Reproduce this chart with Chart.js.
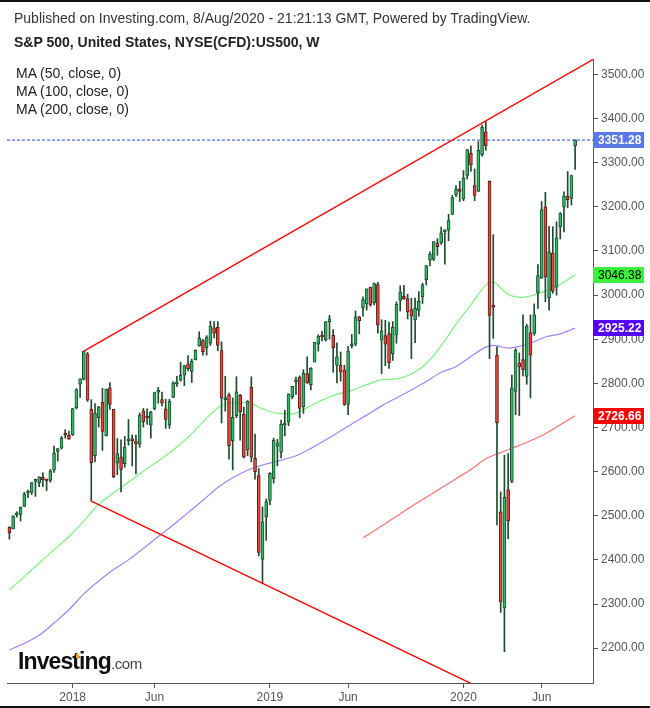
<!DOCTYPE html>
<html>
<head>
<meta charset="utf-8">
<script src="https://cdn.jsdelivr.net/npm/chart.js@4.4.0/dist/chart.umd.min.js"></script>
<style>
  html, body { margin: 0; padding: 0; background: #fff; }
  #wrap { position: relative; width: 650px; height: 708px; overflow: hidden; font-family: Arial, "Liberation Sans", sans-serif; }
  #chart { position: absolute; left: 0; top: 0; }
  .txt { position: absolute; white-space: nowrap; color: #222; font-size: 14px; line-height: 16px; }
  .bar { position: absolute; left: 0; width: 650px; height: 2px; background: #111; }
  #logo { position: absolute; left: 18px; top: 648px; white-space: nowrap; }
  #logo .big { font-size: 23px; font-weight: bold; letter-spacing: -0.9px; color: #111; }
  #logo .small { font-size: 15px; color: #444; letter-spacing: -0.4px; }
  #dot { position: absolute; left: 76px; top: 654px; width: 3px; height: 4px; background: #f5a623; }
</style>
</head>
<body>
<div id="wrap">
  <canvas id="chart" width="650" height="708"></canvas>
  <div class="bar" style="top:0"></div>
  <div class="bar" style="top:706px"></div>
  <div class="txt" style="left:14px; top:10px; color:#333;">Published on Investing.com, 8/Aug/2020 - 21:21:13 GMT, Powered by TradingView.</div>
  <div class="txt" style="left:14px; top:34px; font-weight:bold;">S&amp;P 500, United States, NYSE(CFD):US500, W</div>
  <div class="txt" style="left:16px; top:65px;">MA (50, close, 0)</div>
  <div class="txt" style="left:16px; top:83px;">MA (100, close, 0)</div>
  <div class="txt" style="left:16px; top:101px;">MA (200, close, 0)</div>
  <div id="logo"><span class="big">Investing</span><span class="small">.com</span></div>
  <div id="dot"></div>
</div>
<script>
// weekly candles, index 0 = week of 4 Sep 2017, last = week of 3 Aug 2020
const opens = [2474,2470,2502,2503,2521,2551,2553,2578,2575,2587,2580,2580,2603,2646,2653,2685,2682,
  2684,2745,2798,2809,2867,2741,2636,2722,2757,2681,2790,2741,2619,2633,2618,2670,2675,2669,2662,2738,2725,2705,
  2742,2780,2763,2742,2705,2768,2799,2807,2819,2844,2827,2853,2885,2897,2881,2891,2926,2927,2874,2763,2774,2670,
  2727,2773,2730,2650,2791,2630,2591,2401,2498,2535,2584,2657,2644,2706,2712,2770,2804,2814,2747,2822,2797,2848,
  2889,2908,2899,2940,2909,2841,2841,2830,2752,2885,2889,2951,2971,2980,3018,2982,3024,2898,2908,2913,2867,2910,
  2988,2997,2992,2967,2944,2965,2996,3035,3079,3081,3118,3118,3144,3147,3183,3227,3240,3218,3271,3321,3248,3235,
  3318,3370,3258,2974,2864,2509,2291,2559,2578,2782,2846,2854,2816,2915,2913,3005,3038,3200,2994,3095,3018,3155,
  3200,3224,3219,3338];
const highs = [2475,2500,2509,2520,2553,2558,2575,2583,2588,2597,2583,2605,2658,2652,2680,2695,2692,
  2743,2788,2810,2873,2870,2763,2754,2748,2789,2787,2802,2741,2675,2672,2680,2718,2683,2683,2733,2743,2742,2737,
  2780,2791,2780,2764,2764,2804,2816,2848,2841,2863,2855,2876,2917,2900,2908,2941,2940,2940,2894,2816,2778,2767,
  2815,2775,2746,2761,2815,2685,2607,2520,2538,2598,2676,2673,2717,2739,2776,2793,2814,2817,2831,2860,2836,2893,
  2910,2918,2940,2954,2922,2892,2871,2841,2884,2911,2964,2952,2996,3014,3018,3028,3029,2944,2943,2939,2940,2985,
  3021,3022,3002,2993,2993,3008,3027,3067,3098,3121,3128,3154,3145,3183,3226,3248,3258,3282,3330,3338,3286,3348,
  3385,3394,3259,3137,2883,2554,2637,2641,2819,2879,2869,2955,2934,2955,2980,3069,3212,3233,3156,3155,3166,3187,
  3234,3280,3272,3352];
const lows = [2447,2470,2497,2488,2521,2541,2548,2544,2566,2566,2557,2576,2598,2624,2651,2676,2673,
  2682,2742,2768,2808,2759,2533,2622,2701,2648,2681,2741,2586,2593,2554,2610,2660,2613,2595,2655,2701,2707,2676,
  2740,2755,2749,2698,2698,2768,2793,2805,2795,2828,2802,2853,2884,2864,2864,2886,2903,2874,2710,2737,2628,2604,
  2722,2671,2631,2636,2622,2583,2409,2347,2444,2525,2574,2613,2631,2681,2704,2765,2775,2722,2732,2800,2785,2849,
  2873,2896,2896,2900,2825,2801,2805,2750,2729,2880,2885,2912,2952,2966,2975,2978,2914,2822,2840,2834,2852,2891,
  2964,2990,2946,2856,2892,2952,2981,3023,3066,3078,3090,3115,3070,3123,3183,3223,3212,3214,3263,3280,3214,3235,
  3315,3328,2856,2902,2479,2281,2192,2448,2575,2729,2727,2817,2798,2767,2909,2970,3039,2985,2966,3004,3000,3127,
  3143,3198,3204,3285];
const closes = [2461,2500,2502,2519,2549,2553,2575,2581,2588,2582,2579,2602,2642,2652,2676,2683,2674,
  2743,2786,2810,2873,2762,2620,2732,2747,2691,2787,2752,2588,2641,2605,2656,2670,2670,2663,2728,2713,2721,2735,
  2779,2780,2755,2718,2760,2801,2802,2819,2840,2833,2850,2875,2902,2872,2905,2930,2914,2886,2767,2768,2659,2723,
  2781,2736,2633,2760,2633,2600,2417,2486,2532,2596,2671,2665,2707,2708,2776,2793,2804,2743,2823,2801,2834,2893,
  2907,2905,2940,2946,2881,2860,2826,2752,2873,2887,2951,2942,2990,3014,2977,3026,2932,2919,2889,2847,2927,2979,
  3007,2992,2962,2952,2970,2986,3023,3067,3093,3121,3110,3141,3146,3169,3221,3240,3235,3265,3330,3295,3226,3328,
  3380,3338,2954,2972,2711,2305,2542,2489,2790,2875,2837,2831,2930,2864,2955,3044,3194,3041,3098,3009,3130,3185,
  3225,3216,3271,3351.28];

// moving averages (week index, value)
const ma50Weeks = [0,4,8,12,16,20,24,28,32,36,40,44,48,52,56,60,64,68,72,76,80,84,88,92,96,100,104,108,112,116,120,124,128,130,132,134,136,138,140,144,148,152];
const ma50Values = [2332,2362,2393,2423,2453,2488,2526,2552,2576,2601,2624,2649,2678,2712,2745,2756,2757,2742,2732,2731,2745,2762,2775,2784,2797,2808,2810,2821,2845,2885,2934,2978,3022,3030,3016,3002,2996,2995,2998,3009,3024,3046.38];
const ma100Weeks = [0,4,8,12,16,20,24,28,32,36,40,44,48,52,56,60,64,68,72,76,80,84,88,92,96,100,104,108,112,116,120,124,128,130,132,134,136,140,144,148,152];
const ma100Values = [2196,2211,2229,2257,2287,2323,2352,2378,2400,2426,2453,2479,2507,2535,2564,2586,2603,2615,2624,2633,2648,2667,2687,2708,2728,2749,2767,2785,2804,2825,2838,2861,2882,2886,2883,2880,2882,2891,2905,2912,2925.22];
const ma200Weeks = [95,96,100,104,108,112,116,120,124,128,132,136,140,144,148,152];
const ma200Values = [2450,2455,2477,2499,2521,2542,2563,2584,2605,2629,2643,2656,2670,2686,2706,2726.66];

// drawn trend lines (week index, price)
const upperTrendWeeks = [20, 156.8];
const upperTrendValues = [2873, 3534];
const lowerTrendWeeks = [22, 124];
const lowerTrendValues = [2533, 2120];

const lastPrice = 3351.28;
const xTickWeeks = [17, 39, 70, 91, 122, 143];
const xTickLabels = ['2018', 'Jun', '2019', 'Jun', '2020', 'Jun'];
const yTickValues = [2200,2300,2400,2500,2600,2700,2800,2900,3000,3100,3200,3300,3400,3500];

const badges = [
  { value: lastPrice, bg: '#5a78e6', fg: '#fff' },
  { value: 3046.38, bg: '#3df03d', fg: '#000' },
  { value: 2925.22, bg: '#5500ff', fg: '#fff' },
  { value: 2726.66, bg: '#ff0000', fg: '#fff' }
];

const pts = (xs, ys) => xs.map((x, k) => ({ x: x, y: ys[k] }));
const up = closes.map((c, k) => c >= opens[k]);

const bodies = opens.map((o, k) => ({ x: k, y: [o, closes[k]] }));
const wicks = lows.map((l, k) => ({ x: k, y: [l, highs[k]] }));

const xMin = -0.64, xMax = 156.8;

const badgePlugin = {
  id: 'badges',
  afterDraw(chart) {
    const ctx = chart.ctx;
    const ys = chart.scales.y;
    const left = chart.chartArea.right;
    ctx.save();
    ctx.textBaseline = 'middle';
    badges.forEach(b => {
      const y = Math.round(ys.getPixelForValue(b.value));
      ctx.fillStyle = b.bg;
      ctx.fillRect(left, y - 8, 51, 16);
      ctx.fillStyle = b.fg;
      ctx.font = (b.fg === '#fff' ? 'bold ' : '') + '12px Arial, "Liberation Sans"';
      ctx.fillText(b.value.toFixed(2), left + 5, y + 1);
    });
    ctx.restore();
  }
};

new Chart(document.getElementById('chart'), {
  type: 'bar',
  data: {
    datasets: [
      { type: 'line', data: pts(ma50Weeks, ma50Values), borderColor: '#80f280', borderWidth: 1.2, pointRadius: 0, cubicInterpolationMode: 'monotone', order: 6 },
      { type: 'line', data: pts(ma100Weeks, ma100Values), borderColor: '#a283ff', borderWidth: 1.2, pointRadius: 0, cubicInterpolationMode: 'monotone', order: 6 },
      { type: 'line', data: pts(ma200Weeks, ma200Values), borderColor: '#ff7070', borderWidth: 1.2, pointRadius: 0, cubicInterpolationMode: 'monotone', order: 6 },
      { type: 'line', data: pts([xMin, xMax], [lastPrice, lastPrice]), borderColor: '#2448ee', borderWidth: 1, borderDash: [3, 2], pointRadius: 0, order: 5 },
      { data: wicks, backgroundColor: '#1f4a2e', barThickness: 1, grouped: false, order: 4 },
      { data: bodies, backgroundColor: up.map(u => u ? '#2cbf69' : '#ea4a40'), borderColor: up.map(u => u ? '#1d4b2d' : '#5c1a15'),
        borderWidth: 1, borderSkipped: false, barThickness: 3, minBarLength: 2, grouped: false, order: 3 },
      { type: 'line', data: pts(upperTrendWeeks, upperTrendValues), borderColor: '#ff0000', borderWidth: 1.3, pointRadius: 0, order: 1 },
      { type: 'line', data: pts(lowerTrendWeeks, lowerTrendValues), borderColor: '#ff0000', borderWidth: 1.3, pointRadius: 0, order: 1 }
    ]
  },
  options: {
    responsive: false,
    animation: false,
    layout: { padding: { top: 59, left: 7, right: 0, bottom: 0 } },
    plugins: { legend: { display: false }, tooltip: { enabled: false } },
    scales: {
      x: {
        type: 'linear', min: xMin, max: xMax, offset: false,
        grid: { drawOnChartArea: false, offset: false, tickLength: 5, color: '#555' },
        border: { color: '#555', width: 1 },
        afterBuildTicks: s => { s.ticks = xTickWeeks.map(v => ({ value: v })); },
        afterFit: s => { s.height = 25; },
        ticks: {
          color: '#555', font: { family: 'Arial, "Liberation Sans"', size: 12 }, padding: 2, maxRotation: 0, autoSkip: false,
          callback: v => xTickLabels[xTickWeeks.indexOf(v)]
        }
      },
      y: {
        type: 'linear', position: 'right', min: 2121, max: 3535,
        grid: { drawOnChartArea: false, tickLength: 5, color: '#555' },
        border: { color: '#555', width: 1 },
        afterBuildTicks: s => { s.ticks = yTickValues.map(v => ({ value: v })); },
        afterFit: s => { s.width = 57; },
        ticks: { color: '#555', font: { family: 'Arial, "Liberation Sans"', size: 12 }, padding: 3, callback: v => v.toFixed(2) }
      }
    }
  },
  plugins: [badgePlugin]
});
</script>
</body>
</html>
